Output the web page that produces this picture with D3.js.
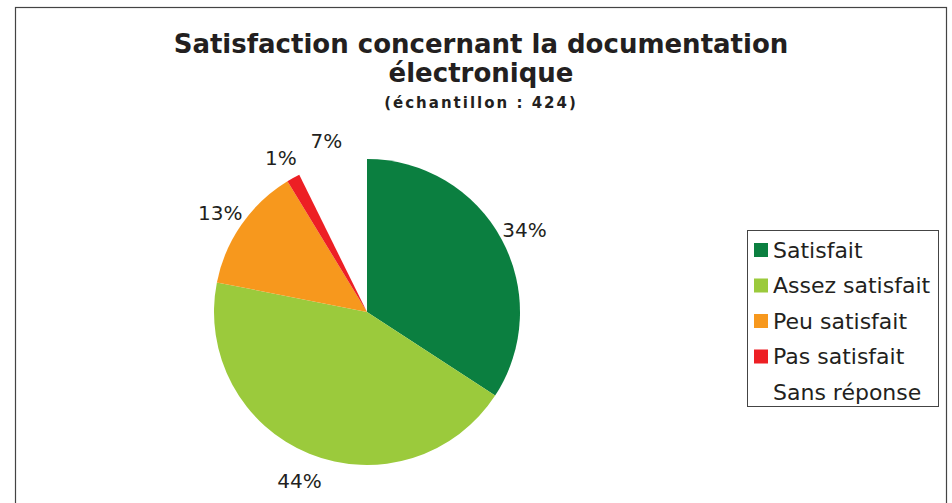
<!DOCTYPE html>
<html>
<head>
<meta charset="utf-8">
<style>
  body { margin: 0; background: #fff; }
  svg { display: block; }
</style>
</head>
<body>
<svg width="952" height="503"></svg>
<script src="https://d3js.org/d3.v7.min.js"></script>
<script>

var categories = ["Satisfait", "Assez satisfait", "Peu satisfait", "Pas satisfait", "Sans réponse"];
var values = [34.2, 43.9, 13.2, 1.4, 7.3];
var labels = ["34%", "44%", "13%", "1%", "7%"];
var colors = ["#0b7f40", "#9bca3c", "#f7981d", "#ed1f24", "none"];
var titleLines = ["Satisfaction concernant la documentation", "électronique"];
var subtitle = "(échantillon : 424)";

var svg = d3.select("svg"),
    font = "DejaVu Sans, Verdana, sans-serif";

// outer frame
svg.append("rect")
    .attr("x", 15.5).attr("y", 7.5)
    .attr("width", 931).attr("height", 520)
    .attr("fill", "none")
    .attr("stroke", "#444")
    .attr("stroke-width", 1.2);

// title
svg.selectAll(".title")
    .data(titleLines)
  .enter().append("text")
    .attr("class", "title")
    .attr("x", 481)
    .attr("y", function(d, i) { return 53 + i * 29; })
    .attr("text-anchor", "middle")
    .style("font", "bold 26px " + font)
    .attr("fill", "#231f20")
    .text(function(d) { return d; });

svg.append("text")
    .attr("x", 481).attr("y", 108)
    .attr("text-anchor", "middle")
    .style("font", "bold 15px " + font)
    .style("letter-spacing", "2px")
    .attr("fill", "#231f20")
    .text(subtitle);

// pie
var cx = 367, cy = 312, r = 153;
var g = svg.append("g").attr("transform", "translate(" + cx + "," + cy + ")");

var pie = d3.pie().sort(null).value(function(d) { return d; });
var arcs = pie(values);
var arc = d3.arc().innerRadius(0).outerRadius(r);
var labelArc = d3.arc().innerRadius(r + 26).outerRadius(r + 26);

g.selectAll(".slice")
    .data(arcs)
  .enter().append("path")
    .attr("class", "slice")
    .attr("d", arc)
    .attr("fill", function(d, i) { return colors[i]; });

g.selectAll(".lbl")
    .data(arcs)
  .enter().append("text")
    .attr("class", "lbl")
    .attr("transform", function(d) {
      var c = labelArc.centroid(d);
      return "translate(" + c[0] + "," + c[1] + ")";
    })
    .attr("text-anchor", "middle")
    .attr("dy", "0.5em")
    .style("font", "20px " + font)
    .attr("fill", "#231f20")
    .text(function(d, i) { return labels[i]; });

// legend
var legend = svg.append("g").attr("transform", "translate(747,230)");
legend.append("rect")
    .attr("x", 0.5).attr("y", 0.5)
    .attr("width", 191).attr("height", 176)
    .attr("fill", "#fff")
    .attr("stroke", "#444");

var item = legend.selectAll(".item")
    .data(categories)
  .enter().append("g")
    .attr("class", "item")
    .attr("transform", function(d, i) { return "translate(0," + (20 + i * 35.5) + ")"; });

item.append("rect")
    .attr("x", 7).attr("y", -7)
    .attr("width", 14).attr("height", 14)
    .attr("fill", function(d, i) { return colors[i]; });

item.append("text")
    .attr("x", 26)
    .attr("dy", "0.36em")
    .style("font", "22px " + font)
    .attr("fill", "#231f20")
    .text(function(d) { return d; });

</script>
</body>
</html>
